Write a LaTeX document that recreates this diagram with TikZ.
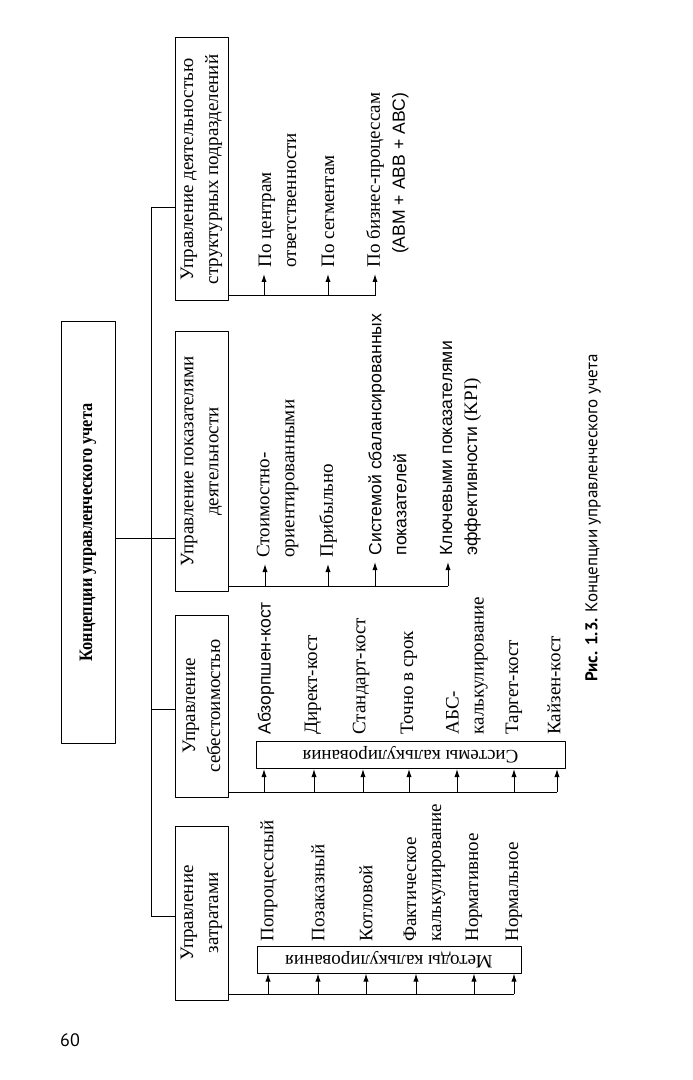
\documentclass[tikz,border=0pt]{standalone}
\usepackage{fontspec}
\usepackage{graphicx}
\setmainfont{Liberation Serif}
\newfontfamily\sansfont{Liberation Sans}
\newfontfamily\capfont{PT Sans}
\usepackage{tikz}
\usetikzlibrary{arrows.meta}
\usetikzlibrary{shapes}

\tikzset{
  topbox/.style={draw,rotate=90,minimum height=27pt,inner sep=0pt,font=\fontsize{9.5}{12.5}\selectfont\bfseries},
  mainbox/.style={draw,rotate=90,minimum height=26.5pt,inner sep=0pt,align=center,font=\fontsize{9.5}{12.5}\selectfont},
  groupbox/.style={draw,rotate=180,minimum height=13.5pt,inner sep=0pt,font=\fontsize{9.5}{12.5}\selectfont},
  item/.style={rotate=90,anchor=west,align=left,inner sep=3pt,font=\fontsize{9.5}{12.5}\selectfont},
  sansitem/.style={item,font=\sansfont\fontsize{8.8}{12.5}\selectfont},
}

\begin{document}
\begin{tikzpicture}[x=0.5pt,y=-0.5pt,>={Latex[length=4pt,width=2.6pt]},line join=bevel,line width=0.5pt]
\useasboundingbox (0,0) rectangle (692,1080);
%%
\node (root) at (88,532.5) [topbox,minimum width=210.5pt] {\scalebox{0.86}[1]{Концепции управленческого учета}};
  \node (upr1) at (201.5,169.5) [mainbox,minimum width=131.5pt] {Управление деятельностью\\структурных подразделений};
  \node (upr2) at (201.5,461.5) [mainbox,minimum width=129.5pt] {Управление показателями\\деятельности};
  \node (upr3) at (201.5,706) [mainbox,minimum width=91pt] {Управление\\себестоимостью};
  \node (upr4) at (201.5,913) [mainbox,minimum width=87pt] {Управление\\затратами};
  \node (sys) at (410.5,755) [groupbox,minimum width=154.5pt] {Системы калькулирования};
  \node (met) at (389,959.5) [groupbox,minimum width=132pt] {Методы калькулирования};
%
  \node (n11) at (277.5,274) [item] {По центрам\\ответственности};
  \node (n12) at (328,274) [item] {По сегментам};
  \node (n13) at (387.5,274) [item,align=right] {По бизнес-процессам\\{\sansfont\fontsize{8.8}{12.5}\selectfont(ABM + ABB + ABC)}};
  \node (n21) at (277.5,564) [item] {Стоимостно-\\ориентированными};
  \node (n22) at (328,564) [item] {Прибыльно};
  \node (n23) at (387.5,562) [sansitem] {Системой сбалансированных\\показателей};
  \node (n24) at (460.5,562) [sansitem] {Ключевыми показателями\\эффективности {\rmfamily\fontsize{9.5}{12.5}\selectfont(KPI)}};
  \node (n31) at (266,741) [sansitem] {Абзорпшен-кост};
  \node (n32) at (313,741) [item] {Директ-кост};
  \node (n33) at (361,741) [item] {Стандарт-кост};
  \node (n34) at (409,741) [item] {Точно в срок};
  \node (n35) at (467,741) [item] {АБС-\\калькулирование};
  \node (n36) at (514,741) [item] {Таргет-кост};
  \node (n37) at (554,741) [item] {Кайзен-кост};
  \node (n41) at (269,948) [item] {Попроцессный};
  \node (n42) at (318,948) [item] {Позаказный};
  \node (n43) at (366,948) [item] {Котловой};
  \node (n44) at (424.5,948) [item] {Фактическое\\калькулирование};
  \node (n45) at (474,948) [item] {Нормативное};
  \node (n46) at (514,948) [item] {Нормальное};
%
  \node (cap) at (593,518) [rotate=90,font=\capfont\fontsize{8.5}{10}\selectfont] {\textbf{Рис. 1.3.} Концепции управленческого учета};
  \node (page) at (70,1040) [font=\capfont\fontsize{9}{10}\selectfont] {60};
%
  \coordinate (t0) at (151,538);
  \coordinate (t1) at (151,208);
  \coordinate (t3) at (151,709);
  \coordinate (t4) at (151,916);
  \draw (t0 -| root.south) -- (t0 -| upr2.north);
  \draw (t1) -- (t4);
  \draw (t1) -- (t1 -| upr1.north);
  \draw (t3) -- (t3 -| upr3.north);
  \draw (t4) -- (t4 -| upr4.north);
%
  \coordinate (a11) at (264,296);
  \coordinate (a12) at (328,296);
  \coordinate (a13) at (375,296);
  \draw (upr1.south |- a13) -- (a13);
  \draw [->] (a11) -- (a11 |- n11.west);
  \draw [->] (a12) -- (a12 |- n12.west);
  \draw [->] (a13) -- (a13 |- n13.west);
%
  \coordinate (a21) at (265,586);
  \coordinate (a22) at (328,586);
  \coordinate (a23) at (375,586);
  \coordinate (a24) at (448,586);
  \draw (upr2.south |- a24) -- (a24);
  \draw [->] (a21) -- (a21 |- n21.west);
  \draw [->] (a22) -- (a22 |- n22.west);
  \draw [->] (a23) -- (a23 |- n23.west);
  \draw [->] (a24) -- (a24 |- n24.west);
%
  \coordinate (a31) at (264,792);
  \coordinate (a32) at (314,792);
  \coordinate (a33) at (363,792);
  \coordinate (a34) at (409,792);
  \coordinate (a35) at (457,792);
  \coordinate (a36) at (514,792);
  \coordinate (a37) at (557,792);
  \draw (upr3.south |- a37) -- (a37);
  \draw [->] (a31) -- (a31 |- sys.north);
  \draw [->] (a32) -- (a32 |- sys.north);
  \draw [->] (a33) -- (a33 |- sys.north);
  \draw [->] (a34) -- (a34 |- sys.north);
  \draw [->] (a35) -- (a35 |- sys.north);
  \draw [->] (a36) -- (a36 |- sys.north);
  \draw [->] (a37) -- (a37 |- sys.north);
%
  \coordinate (a41) at (268,994);
  \coordinate (a42) at (318,994);
  \coordinate (a43) at (366,994);
  \coordinate (a44) at (416,994);
  \coordinate (a45) at (474,994);
  \coordinate (a46) at (514,994);
  \draw (upr4.south |- a46) -- (a46);
  \draw [->] (a41) -- (a41 |- met.north);
  \draw [->] (a42) -- (a42 |- met.north);
  \draw [->] (a43) -- (a43 |- met.north);
  \draw [->] (a44) -- (a44 |- met.north);
  \draw [->] (a45) -- (a45 |- met.north);
  \draw [->] (a46) -- (a46 |- met.north);
%
\end{tikzpicture}
\end{document}
